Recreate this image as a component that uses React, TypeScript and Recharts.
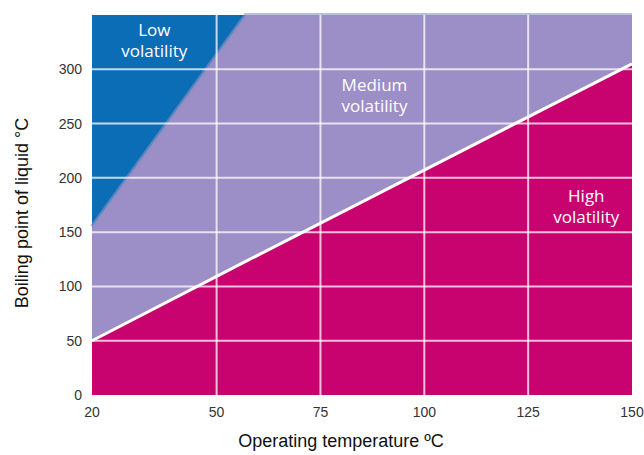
import { Area, ComposedChart, Line, ReferenceDot, ReferenceLine, XAxis, YAxis, Label } from "recharts";

// operating temperature (°C) where the region boundaries change
const temps = [20, 57, 150];
// full chart height (top of the low volatility zone)
const ceiling = [350, 350, 350];
// boundary between low and medium volatility
const lowEdge = [155, 350, 350];
// boundary between medium and high volatility
const highEdge = [50, 123, 305];

const xTicks = [20, 50, 75, 100, 125, 150];
const yTicks = [0, 50, 100, 150, 200, 250, 300];
const vGrid = [50, 75, 100, 125];
const hGrid = [50, 100, 150, 200, 250, 300];

const zoneLabels = [
  { x: 35, y: 327, lines: ["Low", "volatility"] },
  { x: 88, y: 276, lines: ["Medium", "volatility"] },
  { x: 139, y: 174, lines: ["High", "volatility"] },
];

const data = temps.map((t, i) => ({
  t,
  ceiling: ceiling[i],
  low: lowEdge[i],
  high: highEdge[i],
}));

const font = "'Liberation Sans', Arial, sans-serif";

const ZoneText = ({ viewBox, lines }: any) => {
  const cx = viewBox.x + (viewBox.width || 0) / 2;
  const cy = viewBox.y + (viewBox.height || 0) / 2;
  const style = {
    fill: "#fff",
    fontSize: 17,
    fontFamily: "'Open Sans', sans-serif",
  };
  return (
    <g>
      <text x={cx} y={cy - 10.5} textAnchor="middle" dominantBaseline="central" style={style}>
        {lines[0]}
      </text>
      <text x={cx} y={cy + 10.5} textAnchor="middle" dominantBaseline="central" style={style}>
        {lines[1]}
      </text>
    </g>
  );
};

export default function App() {
  return (
    <div style={{ position: "absolute", left: 0, top: 0 }}>
      <ComposedChart
        width={644}
        height={455}
        data={data}
        margin={{ top: 15, right: 12, bottom: 0, left: 32 }}
      >
        <XAxis
          type="number"
          dataKey="t"
          domain={[20, 150]}
          ticks={xTicks}
          axisLine={false}
          tickLine={false}
          tickSize={0}
          tickMargin={12}
          height={60}
          tick={{ fill: "#333", fontSize: 14, fontFamily: font }}
        >
          <Label
            value="Operating temperature ºC"
            position="insideBottom"
            offset={8}
            dx={-21}
            style={{ fill: "#111", fontSize: 18, fontFamily: font }}
          />
        </XAxis>
        <YAxis
          type="number"
          domain={[0, 350]}
          ticks={yTicks}
          axisLine={false}
          tickLine={false}
          tickSize={0}
          tickMargin={10}
          width={60}
          tick={{ fill: "#333", fontSize: 14, fontFamily: font }}
        >
          <Label
            value="Boiling point of liquid °C"
            angle={-90}
            position="insideLeft"
            offset={-10}
            dy={8}
            style={{ textAnchor: "middle", fill: "#111", fontSize: 18, fontFamily: font }}
          />
        </YAxis>
        <Area
          type="linear"
          dataKey="ceiling"
          fill="#0a6db6"
          fillOpacity={1}
          stroke="none"
          isAnimationActive={false}
        />
        <Area
          type="linear"
          dataKey="low"
          fill="#9c8ec6"
          fillOpacity={1}
          stroke="#8d92c4"
          strokeWidth={4}
          strokeOpacity={0.6}
          isAnimationActive={false}
        />
        <Area
          type="linear"
          dataKey="high"
          fill="#c8026f"
          fillOpacity={1}
          stroke="none"
          isAnimationActive={false}
        />
        {vGrid.map((v) => (
          <ReferenceLine key={"v" + v} x={v} stroke="#fff" strokeOpacity={0.75} strokeWidth={2} />
        ))}
        {hGrid.map((v) => (
          <ReferenceLine key={"h" + v} y={v} stroke="#fff" strokeOpacity={0.75} strokeWidth={2} />
        ))}
        <Line
          type="linear"
          dataKey="high"
          stroke="#fff"
          strokeWidth={3}
          dot={false}
          isAnimationActive={false}
        />
        {zoneLabels.map((z) => (
          <ReferenceDot
            key={z.lines[0]}
            x={z.x}
            y={z.y}
            r={0}
            fill="none"
            stroke="none"
            label={<ZoneText lines={z.lines} />}
          />
        ))}
      </ComposedChart>
    </div>
  );
}
